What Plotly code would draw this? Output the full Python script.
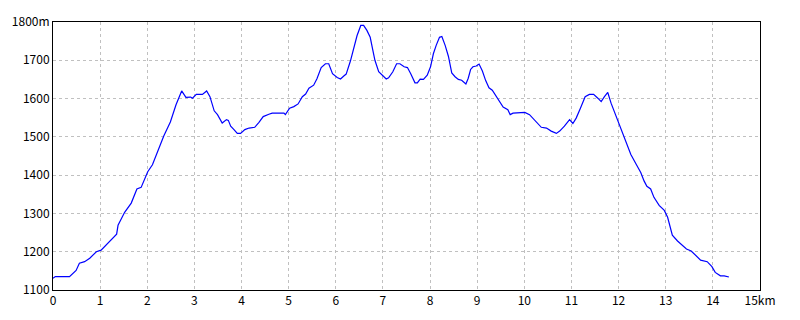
import plotly.graph_objects as go

distance_km = [0.00, 0.05, 0.35, 0.49, 0.56, 0.67, 0.78, 0.92, 1.02, 1.35, 1.38, 1.52, 1.66,
               1.78, 1.87, 2.01, 2.11, 2.22, 2.35, 2.49, 2.61, 2.73, 2.82, 2.92, 2.96, 3.04,
               3.17, 3.26, 3.33, 3.42, 3.49, 3.59, 3.68, 3.72, 3.77, 3.84, 3.91, 3.98, 4.07,
               4.16, 4.28, 4.37, 4.46, 4.58, 4.65, 4.90, 4.93, 5.02, 5.11, 5.20, 5.29, 5.36,
               5.43, 5.53, 5.60, 5.69, 5.78, 5.85, 5.93, 6.03, 6.10, 6.17, 6.22, 6.31, 6.38,
               6.45, 6.53, 6.59, 6.66, 6.73, 6.78, 6.83, 6.91, 7.00, 7.07, 7.12, 7.21, 7.29,
               7.36, 7.45, 7.52, 7.59, 7.68, 7.73, 7.79, 7.86, 7.94, 8.01, 8.07, 8.13, 8.20,
               8.25, 8.32, 8.39, 8.46, 8.53, 8.60, 8.67, 8.76, 8.81, 8.86, 8.91, 8.98, 9.04,
               9.11, 9.18, 9.25, 9.32, 9.41, 9.48, 9.55, 9.65, 9.70, 9.76, 10.01, 10.11,
               10.18, 10.27, 10.36, 10.47, 10.57, 10.68, 10.75, 10.85, 10.96, 11.03, 11.10,
               11.19, 11.29, 11.38, 11.47, 11.56, 11.63, 11.70, 11.77, 11.84, 11.95, 12.05,
               12.16, 12.26, 12.37, 12.47, 12.54, 12.60, 12.68, 12.75, 12.86, 12.97, 13.04,
               13.09, 13.14, 13.25, 13.35, 13.44, 13.54, 13.64, 13.74, 13.88, 13.98, 14.05,
               14.16, 14.24, 14.34]
elevation_m = [1131, 1135, 1135, 1151, 1170, 1174, 1183, 1200, 1204, 1246, 1269, 1303, 1327,
               1364, 1368, 1409, 1427, 1463, 1502, 1539, 1584, 1620, 1603, 1604, 1601, 1611,
               1611, 1620, 1605, 1568, 1558, 1536, 1545, 1543, 1528, 1519, 1509, 1509, 1519,
               1523, 1525, 1538, 1553, 1559, 1562, 1562, 1558, 1575, 1579, 1586, 1605, 1612,
               1627, 1635, 1652, 1681, 1691, 1691, 1665, 1655, 1651, 1659, 1664, 1698, 1735,
               1764, 1791, 1791, 1778, 1760, 1730, 1700, 1670, 1659, 1651, 1654, 1670, 1691,
               1691, 1683, 1681, 1665, 1641, 1641, 1651, 1650, 1661, 1683, 1717, 1739, 1760,
               1762, 1739, 1710, 1667, 1657, 1650, 1648, 1638, 1653, 1676, 1683, 1685, 1690,
               1672, 1647, 1628, 1622, 1605, 1594, 1578, 1571, 1558, 1562, 1564, 1558,
               1549, 1535, 1525, 1523, 1515, 1509, 1515, 1528, 1545, 1535, 1549,
               1575, 1605, 1611, 1611, 1601, 1592, 1605, 1616, 1588, 1553, 1519,
               1486, 1454, 1429, 1407, 1385, 1371, 1364, 1342, 1321, 1308, 1290,
               1265, 1243, 1228, 1217, 1207, 1202, 1189, 1178, 1174, 1161, 1146,
               1137, 1137, 1134]

x_tick_vals = list(range(0, 16))
x_tick_text = [str(v) for v in range(0, 15)] + ["15km"]
y_tick_vals = [1100, 1200, 1300, 1400, 1500, 1600, 1700, 1800]
y_tick_text = ["1100", "1200", "1300", "1400", "1500", "1600", "1700", "1800m"]

fig = go.Figure(go.Scatter(
    x=distance_km, y=elevation_m, mode="lines",
    line=dict(color="#0000ff", width=1.2), hoverinfo="skip"))

font = dict(family="Noto Sans CJK JP, DejaVu Sans, sans-serif", size=12, color="black")

fig.update_layout(
    width=800, height=320,
    margin=dict(l=50, r=40, t=20, b=30),
    paper_bgcolor="white", plot_bgcolor="white",
    showlegend=False, font=font,
    xaxis=dict(range=[0, 15], tickvals=x_tick_vals, ticktext=x_tick_text,
               showgrid=True, gridcolor="#c0c0c0", griddash="3px,3px", gridwidth=1,
               showline=True, linecolor="black", linewidth=1, mirror=True,
               ticks="", zeroline=False, tickfont=font),
    yaxis=dict(range=[1100, 1800], tickvals=y_tick_vals, ticktext=y_tick_text,
               showgrid=True, gridcolor="#c0c0c0", griddash="3px,3px", gridwidth=1,
               showline=True, linecolor="black", linewidth=1, mirror=True,
               ticks="", zeroline=False, tickfont=font),
)

fig.write_html("out.html")
